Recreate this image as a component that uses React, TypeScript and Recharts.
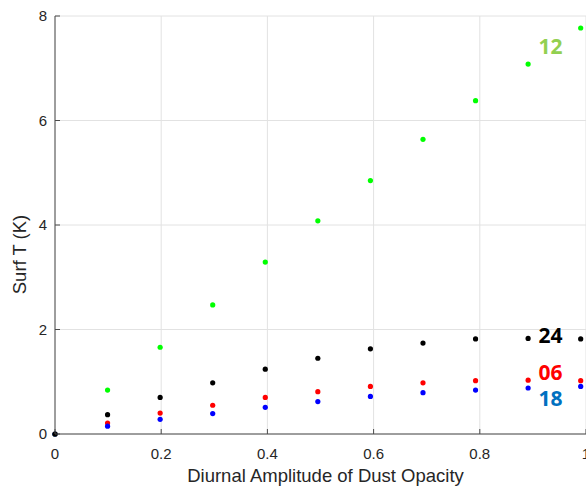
import React from 'react';
import { ScatterChart, Scatter, XAxis, YAxis, CartesianGrid, ReferenceDot, Label } from 'recharts';

const xValues = [0, 0.099, 0.198, 0.297, 0.396, 0.495, 0.594, 0.693, 0.792, 0.891, 0.99];
const hour12 = [0, 0.84, 1.66, 2.47, 3.29, 4.08, 4.85, 5.64, 6.38, 7.08, 7.77];
const hour24 = [0, 0.37, 0.7, 0.98, 1.24, 1.45, 1.63, 1.74, 1.82, 1.83, 1.82];
const hour06 = [0, 0.21, 0.4, 0.55, 0.7, 0.81, 0.91, 0.98, 1.02, 1.03, 1.02];
const hour18 = [0, 0.15, 0.28, 0.39, 0.51, 0.62, 0.72, 0.79, 0.84, 0.88, 0.91];
const xTicks = [0, 0.2, 0.4, 0.6, 0.8, 1];
const yTicks = [0, 2, 4, 6, 8];
const xTickLabels = ['0', '0.2', '0.4', '0.6', '0.8', '1'];
const yTickLabels = ['0', '2', '4', '6', '8'];
const annotNames = ['12', '24', '06', '18'];
const annotX = [0.9106, 0.9106, 0.9106, 0.9106];
const annotY = [7.41, 1.88, 1.166, 0.668];
const annotColors = ['#92d050', '#000000', '#ff0000', '#0070c0'];

const toPoints = (ys: number[]) => xValues.map((x, i) => ({ x, y: ys[i] }));

const AXIS_COLOR = '#4a4a4a';
const TEXT_COLOR = '#262626';
const FONT = '"Liberation Sans", Arial, Helvetica, sans-serif';

const Dot = (color: string) => (props: any) => {
  const { cx, cy } = props;
  if (cx == null || cy == null) return null;
  return <circle cx={cx} cy={cy} r={2.6} fill={color} />;
};

const XTick = (props: any) => {
  const { x, y, payload } = props;
  const idx = xTicks.indexOf(payload.value);
  const label = idx >= 0 ? xTickLabels[idx] : String(payload.value);
  return (
    <g>
      <line x1={x} y1={y} x2={x} y2={y - 5} stroke={AXIS_COLOR} strokeWidth={1} />
      <text x={x} y={y + 25} textAnchor="middle" fill={TEXT_COLOR} fontSize={15} fontFamily={FONT}>
        {label}
      </text>
    </g>
  );
};

const YTick = (props: any) => {
  const { x, y, payload } = props;
  const idx = yTicks.indexOf(payload.value);
  const label = idx >= 0 ? yTickLabels[idx] : String(payload.value);
  return (
    <g>
      <line x1={x} y1={y} x2={x + 5} y2={y} stroke={AXIS_COLOR} strokeWidth={1} />
      <text x={x - 8} y={y + 5.4} textAnchor="end" fill={TEXT_COLOR} fontSize={15} fontFamily={FONT}>
        {label}
      </text>
    </g>
  );
};

export default function App() {
  return (
    <div style={{ position: 'absolute', left: 0, top: 0, width: 586, height: 487, background: '#fff' }}>
      <ScatterChart width={586} height={487} margin={{ top: 16, right: 0, bottom: 0, left: 0 }}>
        <CartesianGrid stroke="#e2e2e2" strokeWidth={1} />
        <XAxis
          type="number"
          dataKey="x"
          domain={[0, 1]}
          ticks={xTicks}
          height={53}
          tickSize={0}
          tickMargin={0}
          tickLine={false}
          tick={<XTick />}
          stroke={AXIS_COLOR}
          interval={0}
        >
          <Label
            content={(p: any) => {
              const vb = p.viewBox || {};
              return (
                <text
                  x={vb.x + vb.width / 2 + 5}
                  y={vb.y + 48}
                  textAnchor="middle"
                  fill={TEXT_COLOR}
                  fontSize={18.5}
                  fontFamily={FONT}
                >
                  Diurnal Amplitude of Dust Opacity
                </text>
              );
            }}
          />
        </XAxis>
        <YAxis
          type="number"
          dataKey="y"
          domain={[0, 8]}
          ticks={yTicks}
          width={55}
          tickSize={0}
          tickMargin={0}
          tickLine={false}
          tick={<YTick />}
          stroke={AXIS_COLOR}
          interval={0}
        >
          <Label
            content={(p: any) => {
              const vb = p.viewBox || {};
              const cx = vb.x + 25.5;
              const cy = vb.y + vb.height / 2 + 29.5;
              return (
                <text
                  x={cx}
                  y={cy}
                  transform={`rotate(-90, ${cx}, ${cy})`}
                  textAnchor="middle"
                  fill={TEXT_COLOR}
                  fontSize={18.5}
                  fontFamily={FONT}
                >
                  Surf T (K)
                </text>
              );
            }}
          />
        </YAxis>
        <Scatter data={toPoints(hour06)} shape={Dot('#ff0000')} isAnimationActive={false} />
        <Scatter data={toPoints(hour12)} shape={Dot('#00ff00')} isAnimationActive={false} />
        <Scatter data={toPoints(hour18)} shape={Dot('#0000ff')} isAnimationActive={false} />
        <Scatter data={toPoints(hour24)} shape={Dot('#000000')} isAnimationActive={false} />
        {annotNames.map((name, i) => (
          <ReferenceDot
            key={name}
            x={annotX[i]}
            y={annotY[i]}
            r={0}
            ifOverflow="visible"
            shape={(p: any) => (
              <text
                x={p.cx}
                y={p.cy + 7.3}
                fill={annotColors[i]}
                fontSize={21}
                fontWeight={700}
                fontFamily='"Open Sans", sans-serif'
              >
                {name}
              </text>
            )}
          />
        ))}
      </ScatterChart>
    </div>
  );
}
